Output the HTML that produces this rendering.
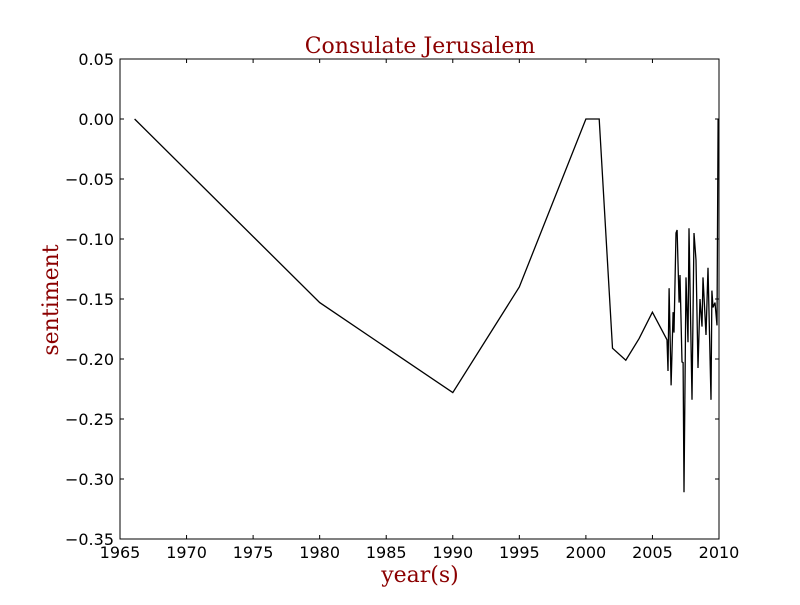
<!DOCTYPE html>
<html><head><meta charset="utf-8"><style>
body{margin:0;background:#fff}
svg text{font-family:"DejaVu Sans","Liberation Sans",sans-serif}
</style></head><body>
<svg id="c" width="800" height="600" xmlns="http://www.w3.org/2000/svg"></svg>
<script>
const years=[1966.1,1980,1990,1995,2000,2001,2002,2003,2004,2005,2006.09,2006.17,2006.25,2006.40,2006.55,2006.62,2006.77,2006.85,2007.0,2007.07,2007.22,2007.30,2007.37,2007.52,2007.67,2007.75,2007.97,2008.12,2008.27,2008.42,2008.57,2008.72,2008.80,2009.02,2009.17,2009.40,2009.47,2009.55,2009.70,2009.85,2009.93];
const sentiment=[0,-0.153,-0.228,-0.14,0,0,-0.191,-0.201,-0.183,-0.161,-0.184,-0.21,-0.141,-0.222,-0.161,-0.178,-0.095,-0.0925,-0.153,-0.13,-0.2025,-0.203,-0.311,-0.132,-0.186,-0.091,-0.234,-0.095,-0.1175,-0.2075,-0.15,-0.173,-0.132,-0.18,-0.124,-0.234,-0.143,-0.157,-0.153,-0.172,0];
const xTicks=[1965,1970,1975,1980,1985,1990,1995,2000,2005,2010];
const yTicks=[0.05,0,-0.05,-0.1,-0.15,-0.2,-0.25,-0.3,-0.35];
const L=120,R=719,T=59,B=539;
const sx=v=>L+(v-1965)/45*(R-L), sy=v=>T+(0.05-v)/0.4*(B-T);
const svg=document.getElementById('c');const NS='http://www.w3.org/2000/svg';
function el(t,a,txt){const e=document.createElementNS(NS,t);for(const k in a)e.setAttribute(k,a[k]);if(txt!==undefined)e.textContent=txt;svg.appendChild(e);return e;}
const frame=el('rect',{x:L,y:T,width:R-L,height:B-T,fill:'none',stroke:'#000','stroke-width':1});


xTicks.forEach(v=>{const x=sx(v);
 const t1=el('line',{x1:x,x2:x,y1:B,y2:B-4,stroke:'#000'});
 
 
 el('line',{x1:x,x2:x,y1:T,y2:T+4,stroke:'#000'});
 const lb=el('text',{x:x,y:B+19,'text-anchor':'middle','font-size':16},String(v));
 
 });
yTicks.forEach(v=>{const y=sy(v);
 const t1=el('line',{x1:L,x2:L+4,y1:y,y2:y,stroke:'#000'});
 
 
 el('line',{x1:R,x2:R-4,y1:y,y2:y,stroke:'#000'});
 const s=(v<0?'\u2212':'')+Math.abs(v).toFixed(2);
 const lb=el('text',{x:L-6,y:y+6,'text-anchor':'end','font-size':16},s);
 
 });
const pts=years.map((y,i)=>sx(y).toFixed(1)+','+sy(sentiment[i]).toFixed(1)).join(' ');
const line=el('polyline',{points:pts,fill:'none',stroke:'#000','stroke-width':1.3});


const serif='font-family:"DejaVu Serif",serif';
const ti=el('text',{x:420,y:53,'text-anchor':'middle','font-size':22,fill:'#8b0000',style:serif},'Consulate Jerusalem');


const xt=el('text',{x:420,y:582,'text-anchor':'middle','font-size':22,fill:'#8b0000',style:serif},'year(s)');


const yt=el('text',{x:0,y:0,'text-anchor':'middle','font-size':22,fill:'#8b0000',style:serif,transform:'translate(58,300) rotate(-90)'},'sentiment');


</script>
</body></html>
